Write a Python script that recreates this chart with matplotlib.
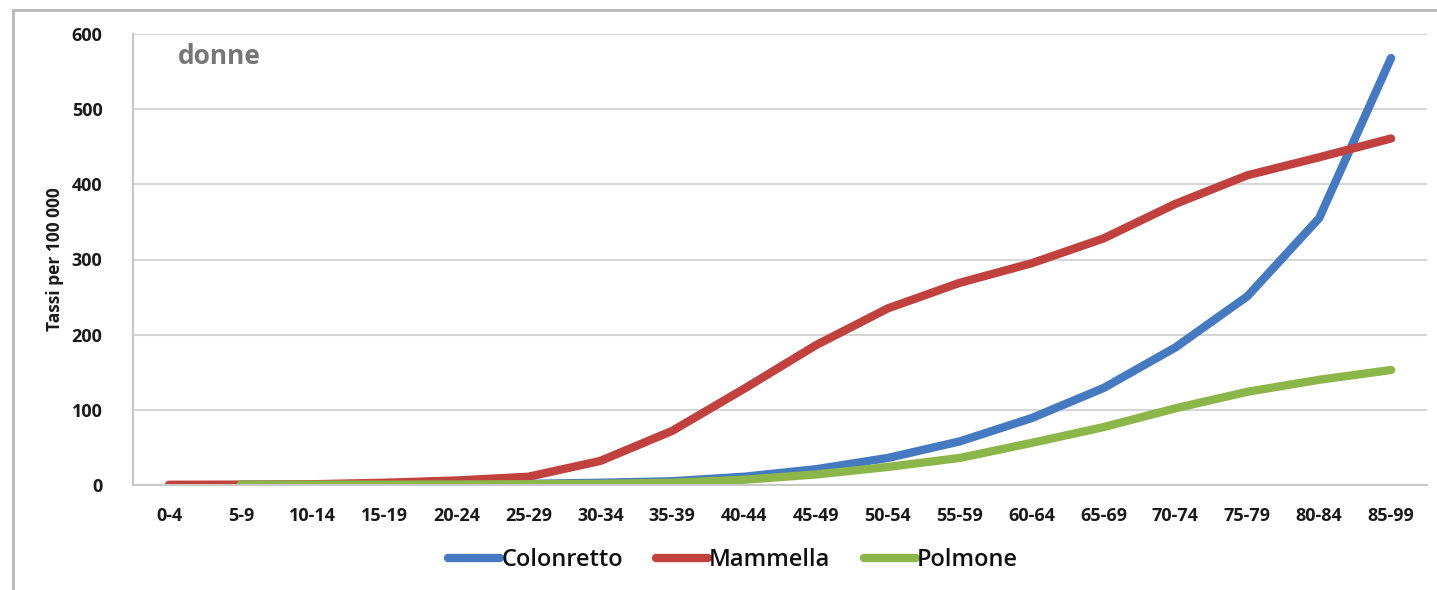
import numpy as np
import matplotlib.pyplot as plt
from matplotlib.patches import Rectangle

plt.rcParams['font.family'] = ['Open Sans', 'DejaVu Sans']

age_groups = ['0-4', '5-9', '10-14', '15-19', '20-24', '25-29', '30-34', '35-39',
              '40-44', '45-49', '50-54', '55-59', '60-64', '65-69', '70-74',
              '75-79', '80-84', '85-99']
colonretto = [np.nan, 0.2, 0.3, 0.5, 1, 1.5, 3, 5, 11, 21, 36, 58, 89, 129, 183, 251, 355, 568]
mammella = [0.3, 0.5, 1, 3, 6, 11, 32, 72, 128, 186, 235, 269, 295, 328, 374, 412, 436, 461]
polmone = [np.nan, 0.5, 0.5, 0.5, 0.7, 1, 1.5, 3, 7, 14, 24, 36, 56, 77, 102, 124, 140, 153]

series = [('Colonretto', colonretto, '#4579c0'),
          ('Mammella', mammella, '#c0413d'),
          ('Polmone', polmone, '#8db64a')]

fig = plt.figure(figsize=(14.37, 5.9), dpi=100)

# outer chart frame (only top and left edges fall inside the image)
frame = Rectangle((13 / 1437, -0.1), 1.2, 1.0 - 10 / 590 + 0.1, transform=fig.transFigure,
                  fill=False, edgecolor='#b8b8b8', linewidth=2)
fig.patches.append(frame)

ax = fig.add_axes([133 / 1437, 105 / 590, 1294 / 1437, 451 / 590])
x = np.arange(len(age_groups))
for name, vals, col in series:
    ax.plot(x, vals, color=col, linewidth=6, solid_capstyle='round',
            solid_joinstyle='round', label=name)

ax.set_xlim(-0.5, len(age_groups) - 0.5)
ax.set_ylim(0, 600)
ax.set_yticks(range(0, 601, 100))
ax.set_xticks(x)
ax.set_xticklabels(age_groups)
ax.grid(axis='y', color='#d6d6d6', linewidth=1.5)
ax.set_axisbelow(True)
for s in ['top', 'right']:
    ax.spines[s].set_visible(False)
for s in ['left', 'bottom']:
    ax.spines[s].set_color('#c8c8c8')
    ax.spines[s].set_linewidth(1.5)
ax.tick_params(length=0, labelsize=13, colors='#1a1a1a')
ax.tick_params(axis='y', pad=22)
ax.tick_params(axis='x', pad=16)
for lab in ax.get_xticklabels() + ax.get_yticklabels():
    lab.set_fontweight('bold')

ax.set_ylabel('Tassi per 100 000', fontsize=12.5, fontweight='bold', color='#1a1a1a')
ax.yaxis.set_label_coords(-0.053, 0.5)

ax.text(45 / 1294, 1 - 23 / 451, 'donne', transform=ax.transAxes, fontsize=19,
        fontweight='bold', color='#767676', va='center', ha='left')

leg = fig.legend(loc='center', bbox_to_anchor=(733 / 1437, 1 - 560 / 590), ncol=3,
                 frameon=False, handlelength=2.2, handletextpad=0.05,
                 columnspacing=1.4, prop={'size': 17, 'weight': 'semibold'})
for t in leg.get_texts():
    t.set_color('#111111')

fig.savefig('out.png', dpi=100)
